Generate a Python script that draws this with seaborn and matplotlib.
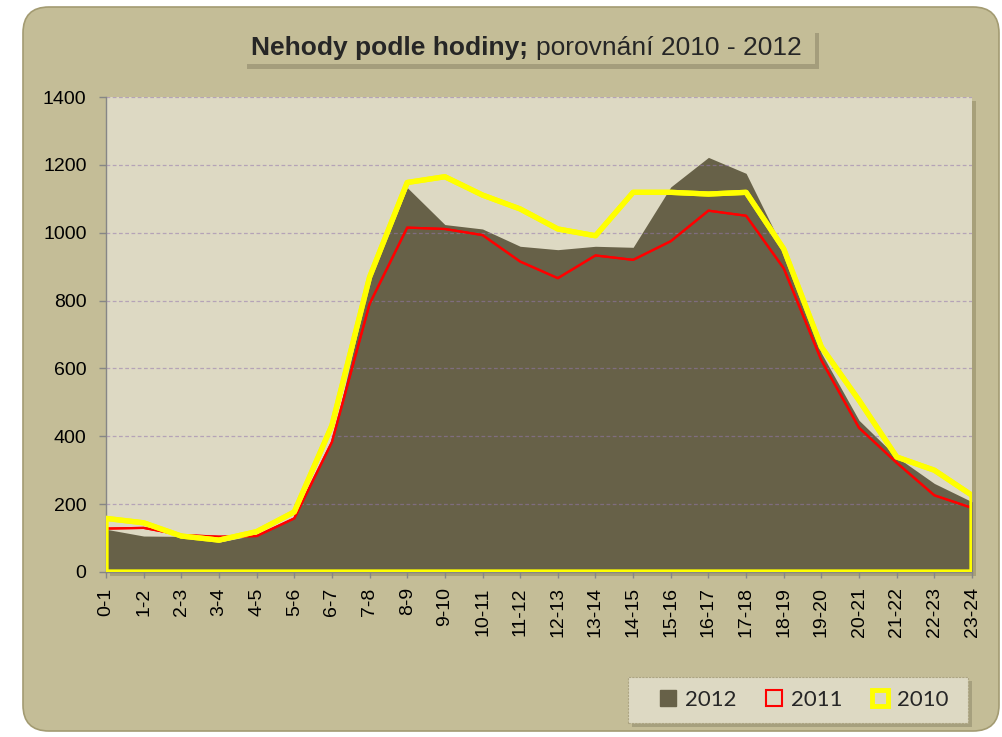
import numpy as np
import pandas as pd
import matplotlib
matplotlib.use("Agg")
import matplotlib.pyplot as plt
import seaborn as sns
from matplotlib.patches import FancyBboxPatch, Rectangle
from matplotlib.lines import Line2D
from matplotlib.transforms import IdentityTransform

# ---- data ----
hours = ["0-1", "1-2", "2-3", "3-4", "4-5", "5-6", "6-7", "7-8", "8-9", "9-10",
         "10-11", "11-12", "12-13", "13-14", "14-15", "15-16", "16-17", "17-18",
         "18-19", "19-20", "20-21", "21-22", "22-23", "23-24"]
acc_2012 = [126, 106, 105, 88, 110, 162, 383, 860, 1133, 1024, 1011, 960,
            950, 960, 957, 1135, 1222, 1175, 950, 645, 447, 339, 261, 207]
acc_2011 = [128, 130, 109, 104, 106, 158, 383, 790, 1015, 1011, 993, 915,
            866, 933, 920, 975, 1065, 1050, 895, 624, 425, 322, 226, 189]
acc_2010 = [158, 145, 106, 94, 119, 177, 432, 869, 1148, 1165, 1111, 1070,
            1011, 991, 1119, 1119, 1114, 1119, 952, 663, 506, 339, 300, 226]
series_labels = ["2012", "2011", "2010"]
y_ticks = [0, 200, 400, 600, 800, 1000, 1200, 1400]

df = pd.DataFrame({"pos": np.arange(len(hours)), "hour": hours,
                   "2012": acc_2012, "2011": acc_2011, "2010": acc_2010})

# ---- style ----
sns.set_theme(style="ticks")
plt.rcParams["font.family"] = ["Liberation Sans", "DejaVu Sans"]

W, H = 1002, 737
fig = plt.figure(figsize=(W / 100, H / 100), dpi=100)
fig.patch.set_facecolor("white")

C_OUT = "#C4BD97"
C_PLOT = "#DDD9C3"
C_AREA = "#676148"
C_SHADOW = "#8A8466"

# rounded chart background (pixel coords)
bg = FancyBboxPatch((23, H - 731), 976, 724,
                    boxstyle="round,pad=0,rounding_size=26",
                    transform=IdentityTransform(), facecolor=C_OUT,
                    edgecolor="#A39B72", linewidth=1.2, zorder=-3)
fig.add_artist(bg)

# plot area shadow
px0, px1, py_top, py_bot = 106, 972, 97, 572
fig.add_artist(Rectangle((px0 + 4, H - py_bot - 4), px1 - px0, py_bot - py_top,
                         transform=IdentityTransform(), facecolor="#A7A07A",
                         edgecolor="none", zorder=-2))

ax = fig.add_axes([px0 / W, 1 - py_bot / H, (px1 - px0) / W, (py_bot - py_top) / H])
ax.set_facecolor(C_PLOT)

x = df["pos"].values
ax.fill_between(x, 0, df["2012"], color=C_AREA, linewidth=0, zorder=1)
ax.fill_between(x, 0, df["2011"], facecolor="none", edgecolor="#FF0000",
                linewidth=1.6, zorder=3)
sns.lineplot(data=df, x="pos", y="2011", ax=ax, color="#FF0000",
             linewidth=1.6, zorder=3)
ax.fill_between(x, 0, df["2010"], facecolor="none", edgecolor="#FFFF00",
                linewidth=3.8, zorder=4)
sns.lineplot(data=df, x="pos", y="2010", ax=ax, color="#FFFF00",
             linewidth=3.8, zorder=4)

ax.set_xlim(0, len(hours) - 1)
ax.set_ylim(0, 1400)
ax.set_yticks(y_ticks)
ax.set_xticks(x)
ax.set_xticklabels(hours, rotation=90)
ax.set_xlabel("")
ax.set_ylabel("")

ax.set_axisbelow("line")
ax.yaxis.grid(True, color="#9478AE", alpha=0.55, linestyle=(0, (3, 2)),
              linewidth=0.9)
ax.xaxis.grid(False)

for s in ["top", "right"]:
    ax.spines[s].set_visible(False)
for s in ["left", "bottom"]:
    ax.spines[s].set_color("#868686")
    ax.spines[s].set_linewidth(1.0)

ax.tick_params(axis="y", direction="out", length=5, width=1, color="#868686",
               labelsize=14, labelcolor="black", pad=9, left=True)
ax.tick_params(axis="x", direction="out", length=4, width=1, color="#868686",
               labelsize=14, labelcolor="black", pad=7, bottom=True)

# ---- title box ----
tb_x0, tb_x1, tb_top, tb_bot = 243, 815, 28, 64
fig.add_artist(Rectangle((tb_x0 + 4, H - tb_bot - 5), tb_x1 - tb_x0, tb_bot - tb_top,
                         transform=IdentityTransform(), facecolor=C_SHADOW,
                         alpha=0.55, edgecolor="none", zorder=1))
fig.add_artist(Rectangle((tb_x0, H - tb_bot), tb_x1 - tb_x0, tb_bot - tb_top,
                         transform=IdentityTransform(), facecolor=C_OUT,
                         edgecolor="none", zorder=2))
renderer = fig.canvas.get_renderer()
t1 = fig.text(251 / W, 1 - 55 / H, "Nehody podle hodiny;", fontsize=19,
              fontweight="bold", ha="left", va="baseline", zorder=3)
bb = t1.get_window_extent(renderer=renderer)
fig.text((bb.x1 + 8) / W, 1 - 55 / H, "porovnání 2010 - 2012", fontsize=19,
         ha="left", va="baseline", zorder=3)

# ---- legend ----
lg_x0, lg_x1, lg_top, lg_bot = 628, 968, 677, 723
fig.add_artist(Rectangle((lg_x0 + 4, H - lg_bot - 4), lg_x1 - lg_x0, lg_bot - lg_top,
                         transform=IdentityTransform(), facecolor=C_SHADOW,
                         alpha=0.5, edgecolor="none", zorder=1))
frame = Rectangle((lg_x0, H - lg_bot), lg_x1 - lg_x0, lg_bot - lg_top,
                  transform=IdentityTransform(), facecolor=C_PLOT,
                  edgecolor="#ADA583", linewidth=0.8, zorder=2)
frame.set_linestyle((0, (2, 1)))
fig.add_artist(frame)

handles = [
    Line2D([], [], marker="s", linestyle="none", markersize=11,
           markerfacecolor=C_AREA, markeredgecolor=C_AREA),
    Line2D([], [], marker="s", linestyle="none", markersize=12,
           markerfacecolor="none", markeredgecolor="#FF0000", markeredgewidth=1.5),
    Line2D([], [], marker="s", linestyle="none", markersize=12,
           markerfacecolor="none", markeredgecolor="#FFFF00", markeredgewidth=3.5),
]
leg = fig.legend(handles, series_labels, ncol=3, loc="center left",
                 bbox_to_anchor=(658 / W, 1 - 700 / H), bbox_transform=fig.transFigure,
                 prop={"family": "Lato", "size": 16}, frameon=False,
                 handlelength=0.9, handletextpad=0.3,
                 columnspacing=1.25, borderpad=0, borderaxespad=0)
leg.set_zorder(3)

fig.savefig("out.png", dpi=100, facecolor=fig.get_facecolor())
